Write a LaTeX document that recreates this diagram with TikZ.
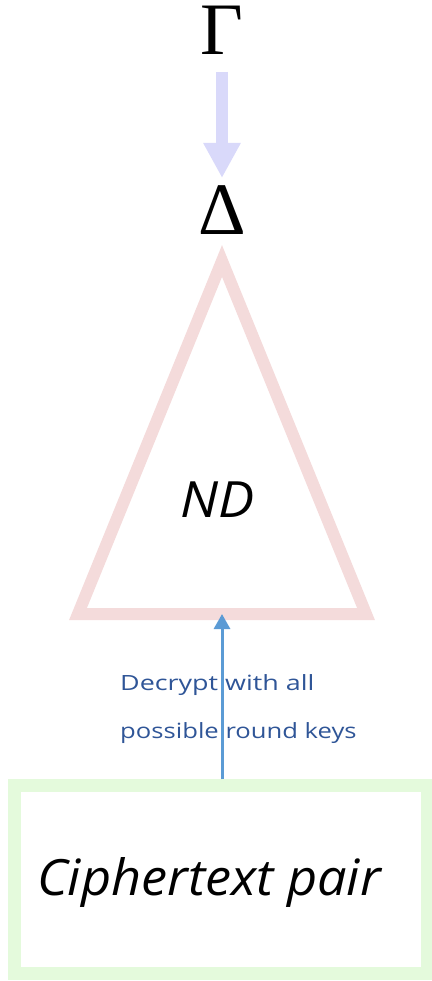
\documentclass[tikz,border=0pt]{standalone}
\usepackage{fontspec}
\setmainfont{Liberation Serif}
\newfontfamily\handfont{Open Sans}
\usetikzlibrary{arrows.meta}
\definecolor{lavender}{HTML}{D9D9FA}
\definecolor{rosepink}{HTML}{F4DBDB}
\definecolor{mintgreen}{HTML}{E4FADC}
\definecolor{arrowblue}{HTML}{5B9BD5}
\definecolor{labelblue}{HTML}{2F5597}
\tikzset{
  greek/.style={inner sep=0pt, text height=50pt, text depth=0pt, font=\fontsize{74}{80}\selectfont},
  handtext/.style={inner sep=0pt, font=\handfont\itshape\fontsize{50}{56}\selectfont},
  notetext/.style={inner sep=0pt, text=labelblue, font=\handfont\fontsize{21}{24}\selectfont, anchor=base west},
  bigarrow/.style={draw=lavender, line width=12pt, line cap=butt,
    -{Triangle[width=35pt, length=35pt, fill=lavender]}},
  triframe/.style={draw=rosepink, line width=12pt, line join=miter},
  boxframe/.style={draw=mintgreen, line width=12.5pt, minimum width=412.5pt, minimum height=188pt, inner sep=0pt},
  keyarrow/.style={draw=arrowblue, line width=3pt, -{Triangle[width=16pt, length=15pt]}}
}
\begin{document}
\begin{tikzpicture}[x=1pt, y=-1pt]
  \useasboundingbox (0,0) rectangle (431,981);

  % key schedule symbols and the arrow between them
  \node[greek, anchor=base] (gamma) at (222,55) {Γ};
  \node[greek, anchor=base] (delta) at (222,235) {Δ};
  \coordinate (arrstart) at (222,72);
  \coordinate (arrend) at (222,178);
  \draw[bigarrow] (arrstart) -- (arrend);

  % neural distinguisher triangle
  \coordinate (apex) at (222,261);
  \coordinate (left) at (78,614);
  \coordinate (right) at (366,614);
  \coordinate (ndbase) at (222,614);
  \draw[triframe] (apex) -- (left) -- (right) -- cycle;
  \node[handtext, anchor=base] (nd) at (218,517) {\scalebox{1.08}[1]{ND}};

  % ciphertext pair box
  \node[boxframe] (ct) at (220.75,879.5) {};
  \node[handtext, anchor=base west] (cttext) at (37,895) {\scalebox{1.045}[1]{Ciphertext pair}};

  % decryption label and arrow
  \node[notetext] (note1) at (120,690) {\scalebox{1.28}[1]{Decrypt with all}};
  \node[notetext] (note2) at (120,738) {\scalebox{1.22}[1]{possible round keys}};
  \draw[keyarrow] (ct.north -| ndbase) -- (ndbase);
\end{tikzpicture}
\end{document}
